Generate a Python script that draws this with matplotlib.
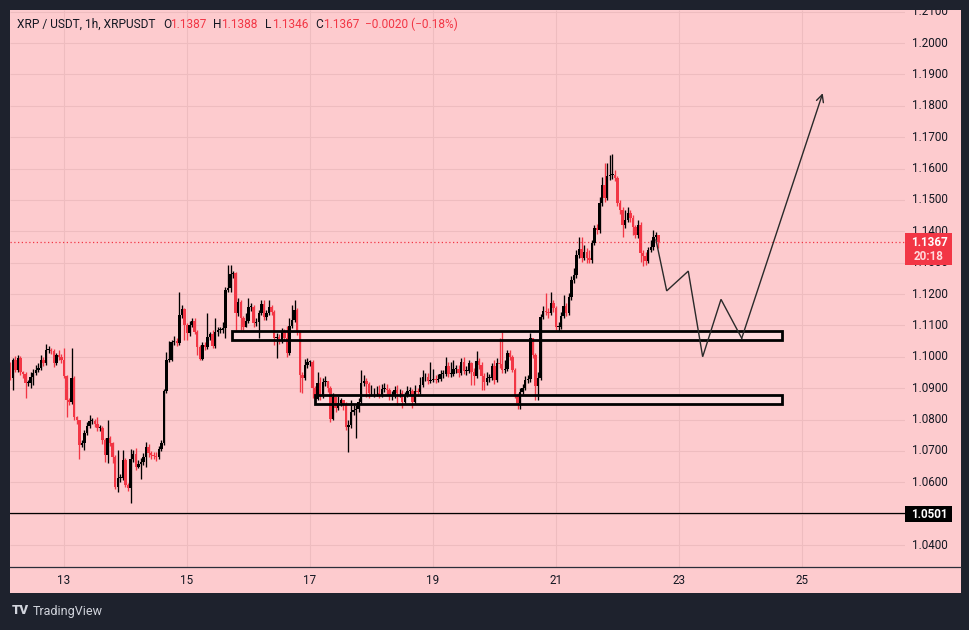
import matplotlib
matplotlib.use("Agg")
import matplotlib.pyplot as plt
from matplotlib.patches import Rectangle
from matplotlib.lines import Line2D
import matplotlib.transforms as mtransforms
import numpy as np

# ---------------- data ----------------
first_open = 1.0967
close = [
1.0932,1.0990,1.0958,1.0996,1.0951,1.0945,1.0916,1.0916,1.0935,1.0948,
1.0958,1.0964,1.0990,1.0980,1.1022,1.1022,1.1018,1.0980,1.1006,1.0999,
1.0990,1.0939,1.0862,1.0856,1.0932,1.0808,1.0798,1.0719,1.0725,1.0757,
1.0779,1.0795,1.0795,1.0786,1.0773,1.0773,1.0735,1.0687,1.0741,1.0725,
1.0680,1.0585,1.0614,1.0614,1.0671,1.0591,1.0582,1.0674,1.0690,1.0649,
1.0658,1.0665,1.0680,1.0712,1.0693,1.0687,1.0684,1.0680,1.0706,1.0725,
1.0891,1.0990,1.0990,1.1047,1.1050,1.1044,1.1133,1.1152,1.1101,1.1076,
1.1101,1.1114,1.1079,1.1031,1.0993,1.1037,1.1031,1.1063,1.1073,1.1034,
1.1079,1.1085,1.1085,1.1092,1.1213,1.1219,1.1264,1.1267,1.1139,1.1174,
1.1123,1.1095,1.1114,1.1159,1.1159,1.1108,1.1111,1.1139,1.1168,1.1127,
1.1139,1.1159,1.1143,1.1060,1.1063,1.1050,1.1082,1.1060,1.1012,1.1098,
1.1117,1.1149,1.1082,1.0942,1.0932,1.0974,1.0983,1.0983,1.0900,1.0865,
1.0916,1.0878,1.0920,1.0923,1.0900,1.0802,1.0872,1.0837,1.0853,1.0862,
1.0846,1.0776,1.0782,1.0824,1.0830,1.0833,1.0856,1.0916,1.0923,1.0913,
1.0884,1.0884,1.0884,1.0884,1.0878,1.0897,1.0897,1.0894,1.0875,1.0878,
1.0894,1.0884,1.0884,1.0856,1.0878,1.0891,1.0891,1.0856,1.0891,1.0888,
1.0910,1.0935,1.0935,1.0923,1.0926,1.0929,1.0926,1.0929,1.0945,1.0945,
1.0971,1.0945,1.0945,1.0961,1.0961,1.0948,1.0983,1.0955,1.0955,1.0980,
1.0951,1.0939,1.0986,1.0974,1.0939,1.0920,1.0932,1.0932,1.0971,1.0926,
1.0980,1.0977,1.0958,1.0961,1.1012,1.0999,1.0958,1.0878,1.0853,1.0888,
1.0900,1.0926,1.0929,1.1060,1.1006,1.0907,1.0932,1.1127,1.1146,1.1143,
1.1139,1.1171,1.1155,1.1095,1.1095,1.1130,1.1162,1.1139,1.1190,1.1245,
1.1261,1.1324,1.1343,1.1315,1.1334,1.1315,1.1308,1.1363,1.1410,1.1404,
1.1490,1.1547,1.1506,1.1576,1.1579,1.1579,1.1570,1.1490,1.1468,1.1420,
1.1436,1.1458,1.1442,1.1414,1.1388,1.1420,1.1331,1.1321,1.1305,1.1340,
1.1350,1.1382,1.1387,1.1367]
high = [
1.0983,1.0996,1.1002,1.1006,1.1002,1.0955,1.0951,1.0926,1.0951,1.0961,
1.0974,1.0980,1.1006,1.0999,1.1041,1.1034,1.1028,1.1025,1.1012,1.1022,
1.1009,1.1028,1.0942,1.0869,1.1028,1.0939,1.0811,1.0798,1.0735,1.0767,
1.0792,1.0814,1.0805,1.0802,1.0808,1.0782,1.0779,1.0741,1.0798,1.0748,
1.0729,1.0687,1.0703,1.0626,1.0703,1.0677,1.0598,1.0706,1.0703,1.0709,
1.0671,1.0677,1.0693,1.0728,1.0722,1.0700,1.0696,1.0696,1.0716,1.0735,
1.0897,1.1015,1.1050,1.1053,1.1066,1.1060,1.1206,1.1165,1.1155,1.1108,
1.1114,1.1123,1.1123,1.1085,1.1037,1.1047,1.1047,1.1139,1.1079,1.1085,
1.1123,1.1095,1.1095,1.1111,1.1222,1.1292,1.1292,1.1273,1.1270,1.1187,
1.1181,1.1130,1.1139,1.1187,1.1171,1.1165,1.1123,1.1149,1.1181,1.1181,
1.1149,1.1181,1.1165,1.1149,1.1076,1.1073,1.1092,1.1089,1.1098,1.1123,
1.1165,1.1181,1.1155,1.1085,1.0951,1.0993,1.0996,1.0990,1.0990,1.0907,
1.0951,1.0935,1.0932,1.0939,1.0923,1.0907,1.0884,1.0872,1.0875,1.0869,
1.0862,1.0856,1.0798,1.0862,1.0846,1.0846,1.0869,1.0958,1.0942,1.0932,
1.0920,1.0910,1.0900,1.0907,1.0910,1.0913,1.0916,1.0913,1.0900,1.0891,
1.0907,1.0910,1.0897,1.0894,1.0888,1.0907,1.0904,1.0897,1.0910,1.0900,
1.0935,1.0958,1.0948,1.0948,1.0983,1.0961,1.0942,1.0945,1.0958,1.0958,
1.0999,1.0983,1.0983,1.0990,1.0974,1.0974,1.0996,1.0999,1.0971,1.0990,
1.0983,1.0964,1.1018,1.0996,1.0983,1.0948,1.0951,1.0945,1.0980,1.0990,
1.0996,1.1060,1.1079,1.0990,1.1022,1.1022,1.1006,1.0964,1.0884,1.0900,
1.0913,1.0939,1.0942,1.1076,1.1060,1.1012,1.0951,1.1136,1.1162,1.1203,
1.1155,1.1206,1.1181,1.1162,1.1111,1.1143,1.1197,1.1171,1.1203,1.1257,
1.1283,1.1340,1.1382,1.1382,1.1356,1.1347,1.1340,1.1372,1.1420,1.1423,
1.1509,1.1573,1.1618,1.1618,1.1643,1.1646,1.1595,1.1576,1.1500,1.1477,
1.1468,1.1477,1.1468,1.1452,1.1420,1.1436,1.1430,1.1340,1.1334,1.1350,
1.1372,1.1404,1.1398,1.1388]
low = [
1.0926,1.0894,1.0951,1.0951,1.0942,1.0932,1.0869,1.0907,1.0900,1.0910,
1.0942,1.0951,1.0958,1.0971,1.0974,1.1012,1.1009,1.0967,1.0974,1.0990,
1.0980,1.0932,1.0808,1.0846,1.0849,1.0798,1.0786,1.0674,1.0712,1.0703,
1.0751,1.0773,1.0786,1.0776,1.0764,1.0764,1.0722,1.0665,1.0661,1.0716,
1.0661,1.0579,1.0569,1.0601,1.0607,1.0585,1.0572,1.0534,1.0665,1.0639,
1.0645,1.0610,1.0655,1.0649,1.0680,1.0674,1.0674,1.0668,1.0674,1.0700,
1.0719,1.0884,1.0983,1.0986,1.1037,1.1034,1.1037,1.1123,1.1053,1.1053,
1.1066,1.1095,1.1073,1.1006,1.0990,1.0990,1.1022,1.1025,1.1053,1.1028,
1.1028,1.1066,1.1076,1.1076,1.1060,1.1206,1.1206,1.1251,1.1085,1.1130,
1.1085,1.1085,1.1095,1.1108,1.1146,1.1095,1.1098,1.1060,1.1133,1.1117,
1.1117,1.1133,1.1133,1.1037,1.0996,1.1041,1.1044,1.1050,1.0999,1.1006,
1.1092,1.1111,1.1069,1.0888,1.0884,1.0926,1.0964,1.0971,1.0869,1.0862,
1.0862,1.0862,1.0869,1.0907,1.0888,1.0792,1.0798,1.0824,1.0830,1.0843,
1.0830,1.0767,1.0696,1.0773,1.0814,1.0741,1.0824,1.0849,1.0907,1.0872,
1.0869,1.0875,1.0872,1.0875,1.0869,1.0872,1.0888,1.0881,1.0862,1.0862,
1.0869,1.0846,1.0872,1.0837,1.0849,1.0872,1.0878,1.0837,1.0849,1.0875,
1.0881,1.0904,1.0923,1.0913,1.0916,1.0920,1.0916,1.0920,1.0923,1.0932,
1.0939,1.0935,1.0935,1.0939,1.0948,1.0935,1.0942,1.0945,1.0942,1.0948,
1.0910,1.0910,1.0932,1.0961,1.0894,1.0894,1.0910,1.0920,1.0926,1.0913,
1.0920,1.0964,1.0948,1.0948,1.0955,1.0990,1.0951,1.0869,1.0833,1.0833,
1.0881,1.0894,1.0916,1.0920,1.0996,1.0862,1.0862,1.0926,1.1120,1.1133,
1.1123,1.1133,1.1143,1.1085,1.1082,1.1089,1.1123,1.1130,1.1133,1.1181,
1.1235,1.1251,1.1315,1.1302,1.1308,1.1299,1.1299,1.1299,1.1356,1.1391,
1.1394,1.1481,1.1493,1.1500,1.1563,1.1566,1.1560,1.1481,1.1455,1.1382,
1.1410,1.1430,1.1430,1.1388,1.1378,1.1378,1.1302,1.1289,1.1292,1.1299,
1.1334,1.1340,1.1372,1.1346]

start_day = 12 + 3 / 24          # first hourly candle: 12th, 03:00
day_ticks = [13, 15, 17, 19, 21, 23, 25]
price_ticks = [1.04, 1.05, 1.06, 1.07, 1.08, 1.09, 1.10, 1.11, 1.12, 1.13,
               1.14, 1.15, 1.16, 1.17, 1.18, 1.19, 1.20, 1.21]
last_price = 1.1367
countdown = "20:18"
support_level = 1.0501
# zones: (x_start_day, x_end_day, price_low, price_high)
zones = [(15.737, 24.675, 1.1055, 1.1081),
         (17.08, 24.675, 1.0850, 1.0877)]
path_x = [22.626, 22.800, 23.151, 23.385, 23.683, 24.020, 25.337]
path_y = [1.1372, 1.1210, 1.1273, 1.1000, 1.1183, 1.1059, 1.1840]
title_parts = [("XRP / USDT, 1h, XRPUSDT", "k", 17), ("O", "k", 163), ("1.1387", "r", 170),
               ("H", "k", 213), ("1.1388", "r", 221), ("L", "k", 265), ("1.1346", "r", 272),
               ("C", "k", 315), ("1.1367", "r", 323), ("\u22120.0020 (\u22120.18%)", "r", 365)]

# ---------------- style ----------------
W, H = 969, 630
DARK = "#1e222d"
BG = "#fdcbce"
GRID = "#eebcbf"
RED = "#f23645"
UP = "#000000"
TXT = "#131722"
FONT = ["Roboto", "DejaVu Sans"]
plt.rcParams["font.family"] = FONT

fig = plt.figure(figsize=(W / 100, H / 100), dpi=100)
fig.patch.set_facecolor(DARK)

def fxp(px):
    return px / W

def fyp(py):
    return 1 - py / H

PANEL_L, PANEL_R, PANEL_T, PANEL_B = 10, 961, 10, 593
PLOT_R, PLOT_B = 905, 567
YMIN, YMAX = 1.03299, 1.21052
panel = Rectangle((fxp(PANEL_L), fyp(PANEL_B)), fxp(PANEL_R) - fxp(PANEL_L), fyp(PANEL_T) - fyp(PANEL_B),
                  transform=fig.transFigure, facecolor=BG, edgecolor="none", zorder=-5)
fig.patches.append(panel)

ax = fig.add_axes([fxp(PANEL_L), fyp(PLOT_B), fxp(PLOT_R) - fxp(PANEL_L), fyp(PANEL_T) - fyp(PLOT_B)])
ax.set_facecolor(BG)
ax.set_xlim(12.122, 26.675)
ax.set_ylim(YMIN, YMAX)
for s in ax.spines.values():
    s.set_visible(False)
ax.set_xticks([])
ax.set_yticks([])

# grid
ax.hlines(price_ticks, 12.122, 26.675, colors=GRID, lw=0.8, zorder=0)
ax.vlines(day_ticks, YMIN, YMAX, colors=GRID, lw=0.8, zorder=0)

# zones (fill below candles)
for (x0, x1, y0, y1) in zones:
    ax.add_patch(Rectangle((x0, y0), x1 - x0, y1 - y0, facecolor="#fddadd",
                           edgecolor="none", zorder=1))

# candles
n = min(len(close), len(high), len(low))
c = np.array(close[:n])
o = np.concatenate([[first_open], c[:-1]])
h = np.maximum(np.array(high[:n]), np.maximum(o, c))
l = np.minimum(np.array(low[:n]), np.minimum(o, c))
x = start_day + np.arange(n) / 24.0
up = c >= o
cols = np.where(up, UP, RED)
ax.vlines(x, l, h, colors=cols, lw=0.95, zorder=3)
body_b = np.minimum(o, c)
body_h = np.maximum(np.abs(c - o), 0.00020)
ax.bar(x, body_h, width=0.95 / 24, bottom=body_b, color=cols, lw=0, zorder=4)

# zone outlines
for (x0, x1, y0, y1) in zones:
    ax.add_patch(Rectangle((x0, y0), x1 - x0, y1 - y0, facecolor="none",
                           edgecolor="black", lw=2.0, zorder=5))

# levels
ax.axhline(support_level, color="black", lw=0.9, zorder=2)
ax.axhline(last_price, color=RED, lw=0.9, ls=(0, (1, 2)), zorder=2)

# projected path
ax.plot(path_x[:-1], path_y[:-1], color="#2a2a2a", lw=1.0, zorder=6, solid_joinstyle="miter")
ax.annotate("", xy=(path_x[-1], path_y[-1]), xytext=(path_x[-2], path_y[-2]),
            arrowprops=dict(arrowstyle="->", color="#2a2a2a", lw=1.0,
                            mutation_scale=13, shrinkA=0, shrinkB=0), zorder=6)

# badges geometry (pixels)
BADGE_L, BADGE_R = 905, 952
RB_T, RB_B = 233, 265
SB_T, SB_B = 506, 522

def clip_rect(top, bottom):
    return Rectangle((fxp(PANEL_L), fyp(bottom)), fxp(PANEL_R) - fxp(PANEL_L), fyp(top) - fyp(bottom),
                     transform=fig.transFigure)

# price scale labels (those under the badges are only partly visible)
bt = mtransforms.blended_transform_factory(fig.transFigure, ax.transData)
def price_to_px(p):
    frac = (p - YMIN) / (YMAX - YMIN)
    return PLOT_B - frac * (PLOT_B - PANEL_T)

for p in price_ticks:
    py = price_to_px(p)
    if abs(py - price_to_px(support_level)) < 8:
        continue  # fully hidden behind the 1.0501 badge
    t = fig.text(fxp(930), p, f"{p:.4f}", transform=bt, ha="center", va="center",
                 fontsize=8.4, color=TXT, zorder=2)
    if RB_T - 8 < py < RB_T + 8:
        t.set_clip_path(clip_rect(PANEL_T, RB_T))
    elif RB_B - 8 < py < RB_B + 8:
        t.set_clip_path(clip_rect(RB_B, PANEL_B))
    else:
        t.set_clip_path(clip_rect(PANEL_T, PANEL_B))

# last price badge
fig.patches.append(Rectangle((fxp(BADGE_L), fyp(RB_B)), fxp(BADGE_R) - fxp(BADGE_L), fyp(RB_T) - fyp(RB_B),
                             transform=fig.transFigure, facecolor=RED, edgecolor="none", zorder=4))
fig.text(fxp(929), fyp(242), f"{last_price:.4f}", ha="center", va="center", fontsize=8.4,
         color="white", weight="bold", zorder=5)
fig.text(fxp(929), fyp(256.5), countdown, ha="center", va="center", fontsize=8.4,
         color="#ffd9dc", weight="bold", zorder=5)
# support badge
fig.patches.append(Rectangle((fxp(BADGE_L), fyp(SB_B)), fxp(BADGE_R) - fxp(BADGE_L), fyp(SB_T) - fyp(SB_B),
                             transform=fig.transFigure, facecolor="black", edgecolor="none", zorder=4))
fig.text(fxp(929), fyp(514), f"{support_level:.4f}", ha="center", va="center", fontsize=8.4,
         color="white", weight="bold", zorder=5)

# time axis
fig.lines.append(Line2D([fxp(PANEL_L), fxp(PANEL_R)], [fyp(PLOT_B), fyp(PLOT_B)], transform=fig.transFigure,
                        color="#2a2e39", lw=0.9))
tt = mtransforms.blended_transform_factory(ax.transData, fig.transFigure)
for d in day_ticks:
    fig.text(d, fyp(581), str(d), transform=tt, ha="center", va="center",
             fontsize=8.4, color=TXT)

# title
for txt, col, px in title_parts:
    fig.text(fxp(px), fyp(24.5), txt, ha="left", va="center", fontsize=8.6,
             color=(TXT if col == "k" else RED))

# footer logo
fig.text(fxp(12), fyp(611), "TV", ha="left", va="center", fontsize=9.5, weight="heavy",
         color="#d1d4dc")
fig.text(fxp(33), fyp(611), "TradingView", ha="left", va="center", fontsize=9,
         color="#d1d4dc")

fig.savefig("out.png", dpi=100, facecolor=DARK)
